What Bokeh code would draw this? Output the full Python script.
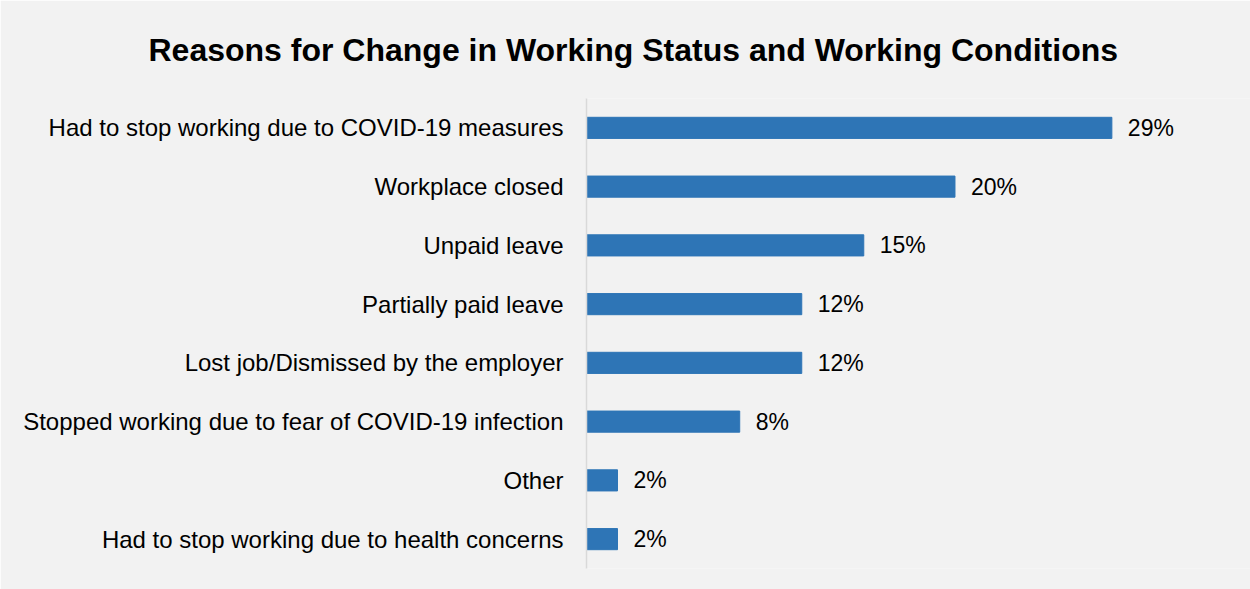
from bokeh.plotting import figure
from bokeh.models import Range1d, ColumnDataSource
from bokeh.embed import file_html
from bokeh.resources import INLINE
from bokeh.core.properties import value

categories = [
    "Had to stop working due to COVID-19 measures",
    "Workplace closed",
    "Unpaid leave",
    "Partially paid leave",
    "Lost job/Dismissed by the employer",
    "Stopped working due to fear of COVID-19 infection",
    "Other",
    "Had to stop working due to health concerns",
]
values = [28.8, 20.2, 15.2, 11.8, 11.8, 8.4, 1.7, 1.7]
value_labels = ["29%", "20%", "15%", "12%", "12%", "8%", "2%", "2%"]

FONT = "Liberation Sans"
BG = "#f2f2f2"

src = ColumnDataSource(dict(cat=categories, val=values, lab=value_labels))

p = figure(
    width=1250, height=589,
    y_range=list(reversed(categories)),
    x_range=Range1d(0, 36.4),
    output_backend="svg", toolbar_location=None,
    min_border_left=586, min_border_top=98, min_border_bottom=21, min_border_right=0,
)
p.title.text = "Reasons for Change in Working Status and Working Conditions"
p.title.text_font = FONT
p.title.text_font_size = "32px"
p.title.text_font_style = "bold"
p.title.text_color = "black"
p.title.align = "left"
p.title.offset = -438
p.title.vertical_align = "top"
p.title.standoff = 58

p.background_fill_color = BG
p.border_fill_color = BG
p.outline_line_color = None
p.grid.visible = False
p.xaxis.visible = False

p.yaxis.axis_line_color = "#d9d9d9"
p.yaxis.axis_line_width = 1.5
p.yaxis.major_tick_line_color = None
p.yaxis.minor_tick_line_color = None
p.yaxis.major_label_text_font = FONT
p.yaxis.major_label_text_font_size = "24px"
p.yaxis.major_label_text_color = "black"
p.yaxis.major_label_standoff = 17

p.hbar(y="cat", right="val", left=0, height=0.36, source=src,
       fill_color="#2e75b6", line_color="#2e75b6")

p.text(x="val", y="cat", text="lab", source=src, x_offset=16,
       text_font=value(FONT), text_font_size="23px", text_color="black",
       text_align="left", text_baseline="middle")

open("out.html", "w").write(file_html(p, INLINE))
